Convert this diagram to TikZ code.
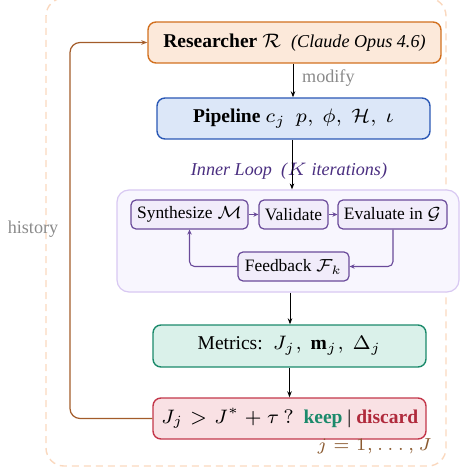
\RequirePackage{fix-cm}
\documentclass[tikz,border=0pt]{standalone}
\usepackage{graphicx}
\usepackage{fontspec}
\setmainfont{Liberation Serif}
\usetikzlibrary{arrows.meta}
\definecolor{resB}{HTML}{D2701F}
\definecolor{resF}{HTML}{FCE9DA}
\definecolor{pipB}{HTML}{2A58B5}
\definecolor{pipF}{HTML}{DCE7F8}
\definecolor{loopB}{HTML}{D8C8F2}
\definecolor{loopF}{HTML}{F8F6FE}
\definecolor{inB}{HTML}{6A4A9A}
\definecolor{inF}{HTML}{F1ECFA}
\definecolor{metB}{HTML}{1B8A6B}
\definecolor{metF}{HTML}{DAF1EA}
\definecolor{decB}{HTML}{C3374A}
\definecolor{decF}{HTML}{F9E1E4}
\definecolor{keepC}{HTML}{1B8A6B}
\definecolor{discC}{HTML}{B02A3C}
\definecolor{loopT}{HTML}{4A2E80}
\definecolor{histC}{HTML}{A35C2A}
\definecolor{jC}{HTML}{8A5A30}
\definecolor{outerC}{HTML}{FAD8BE}
\definecolor{grayT}{HTML}{8A8A8A}
% text set small and scaled up (gives the wide small-design-size math glyphs)
\newcommand{\txtA}[1]{\scalebox{2.8}{\fontsize{7}{8.4}\selectfont #1}}
\newcommand{\txtB}[1]{\scalebox{2.8}{\fontsize{6.25}{7.5}\selectfont #1}}
\newcommand{\txtC}[1]{\scalebox{2.8}{\fontsize{6.5}{7.8}\selectfont #1}}
\tikzset{
  mainbox/.style={draw, line width=1.4bp, rounded corners=8bp, inner sep=0pt, align=center},
  innerbox/.style={draw=inB, fill=inF, line width=1.2bp, rounded corners=5bp, inner sep=0pt, minimum height=29bp},
  mainarrow/.style={-{Stealth[length=6bp,width=4.5bp]}, line width=0.9bp, black},
  inarrow/.style={-{Stealth[length=5bp,width=4.5bp]}, line width=1.1bp, inB},
}
\begin{document}
\begin{tikzpicture}[x=1bp,y=-1bp]
\useasboundingbox (0,0) rectangle (460,469);
% outer dashed frame
\draw[outerC, line width=1.4bp, dash pattern=on 7bp off 5bp, rounded corners=18bp] (46,-2) rectangle (446,466);
% inner loop container
\node[draw=loopB, fill=loopF, line width=1.2bp, rounded corners=12bp, minimum width=342bp, minimum height=102bp, inner sep=0pt] (loop) at (288,241) {};
% main boxes
\node[mainbox, draw=resB, fill=resF, minimum width=293bp, minimum height=41bp] (res) at (294.5,42.5)
  {\txtA{\textbf{Researcher} $\mathcal{R}$\ \ {\fontsize{6.5}{7.8}\selectfont\itshape (Claude Opus 4.6)}}};
\node[mainbox, draw=pipB, fill=pipF, minimum width=273bp, minimum height=41bp] (pipe) at (293.5,118.5)
  {\txtA{\textbf{Pipeline} $c_j\ \ p,\ \phi,\ \mathcal{H},\ \iota$}};
\node[mainbox, draw=metB, fill=metF, minimum width=273bp, minimum height=42bp] (met) at (289.5,346)
  {\txtA{Metrics:\ \ $J_j,\ \mathbf{m}_j,\ \Delta_j$}};
\node[mainbox, draw=decB, fill=decF, minimum width=273bp, minimum height=41bp] (dec) at (289.5,418.5)
  {\txtA{$J_j > J^{*} + \tau\,?$\ \ \textcolor{keepC}{\textbf{keep}} | \textcolor{discC}{\textbf{discard}}}};
% inner boxes
\node[innerbox, minimum width=117bp] (syn) at (189.5,214.5) {\txtB{Synthesize $\mathcal{M}$}};
\node[innerbox, minimum width=69bp] (val) at (293.5,214.5) {\txtB{Validate}};
\node[innerbox, minimum width=109bp] (eva) at (392.5,214.5) {\txtB{Evaluate in $\mathcal{G}$}};
\node[innerbox, minimum width=111bp] (fb) at (293.5,266.5) {\txtB{Feedback $\mathcal{F}_k$}};
% labels
\node[text=grayT, anchor=west, inner sep=0pt] (modlbl) at (302,78) {\txtC{modify}};
\node[text=loopT, inner sep=0pt] (looplbl) at (289,171) {\txtC{\itshape Inner Loop\ \ ($K$ iterations)}};
\node[text=grayT, inner sep=0pt] (histlbl) at (33,229) {\txtC{history}};
\node[text=jC, anchor=east, inner sep=0pt] (jlbl) at (432,446) {\txtB{$j = 1,\ldots,J$}};
% main arrows
\draw[mainarrow] (res.south -| 293,0) -- (pipe.north -| 293,0);
\draw[mainarrow] (pipe.south -| 292,0) -- (loop.north -| 292,0);
\draw[mainarrow] (loop.south -| 290,0) -- (met.north -| 290,0);
\draw[mainarrow] (met.south) -- (dec.north);
% inner arrows
\draw[inarrow] (syn.east) -- (val.west);
\draw[inarrow] (val.east) -- (eva.west);
\draw[inarrow, rounded corners=5bp] (eva.south -| 393,0) |- (fb.east);
\draw[inarrow, rounded corners=5bp] (fb.west) -| (syn.south);
% history loop
\draw[histC, line width=1.2bp, -{Stealth[length=6bp,width=4.5bp]}, rounded corners=10bp]
  (dec.west) -- (70,418.5) -- (70,42.5) -- (res.west);
\end{tikzpicture}
\end{document}
